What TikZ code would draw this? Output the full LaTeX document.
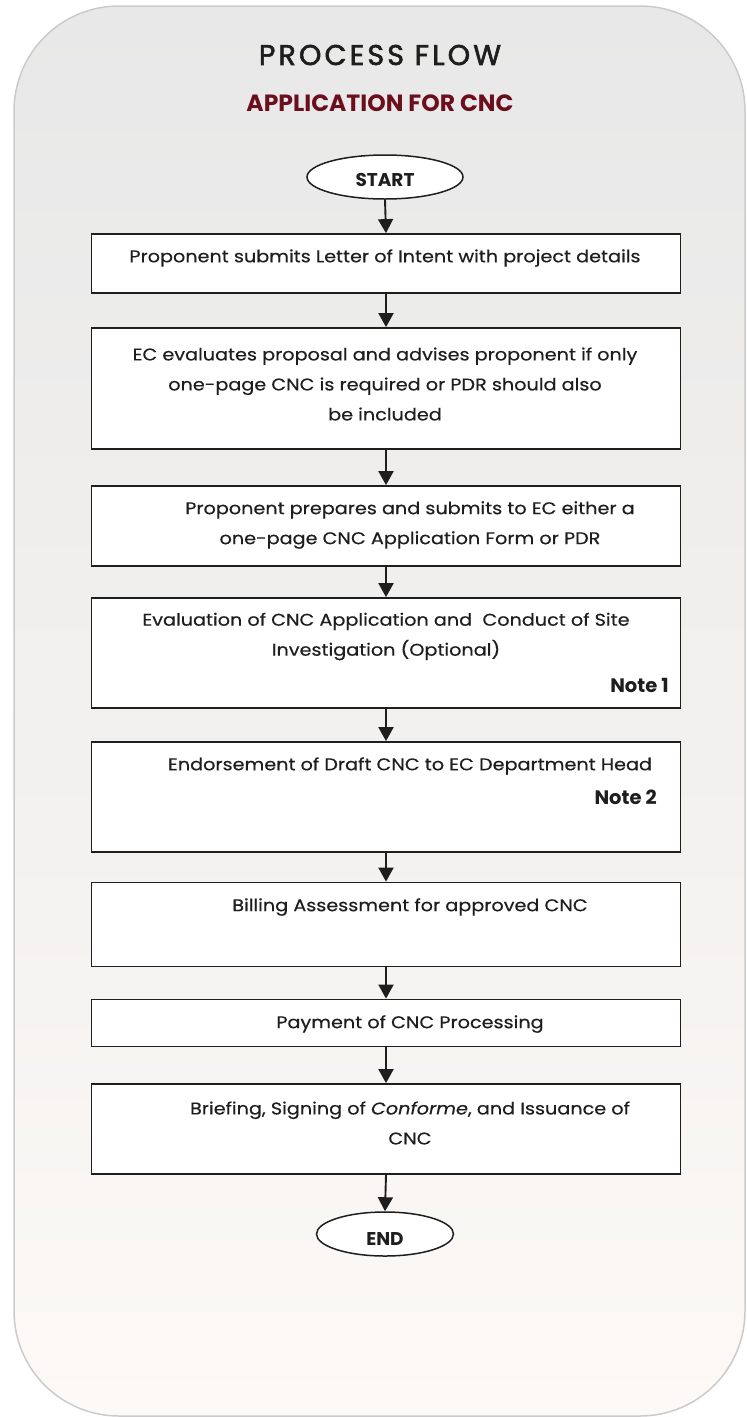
\documentclass[tikz,border=0pt]{standalone}
\usepackage{fontspec}
\setmainfont[FakeStretch=1.13, FakeBold=0.4]{Poppins}
\newfontfamily\titlefont[LetterSpace=11, FakeBold=2]{Poppins}
\newfontfamily\headfont{Poppins}
\newfontfamily\notefont{Poppins}
\usetikzlibrary{arrows.meta,shapes.geometric}
\definecolor{panelline}{HTML}{CBCBCB}
\definecolor{paneltop}{HTML}{E8E8E8}
\definecolor{panelbottom}{HTML}{FCF9F6}
\definecolor{subtitle}{HTML}{6B0F1E}
\definecolor{ink}{HTML}{1E1E1E}
\tikzset{
  stepbox/.style={draw=ink, line width=1.8pt, fill=white, minimum width=589pt, inner sep=0pt},
  terminal/.style={ellipse, draw=ink, line width=1.5pt, fill=white, inner sep=0pt},
  termtext/.style={font=\notefont\bfseries\fontsize{18.5}{18.5}\selectfont, text=ink, inner sep=0pt},
  steptext/.style={font=\fontsize{17}{30}\selectfont, text=ink, align=center, inner sep=0pt},
  notetext/.style={font=\notefont\bfseries\fontsize{19.5}{19.5}\selectfont, text=ink, inner sep=0pt, anchor=east},
  flow/.style={draw=ink, line width=1.9pt, -{Triangle[width=15pt,length=14pt]}},
}
\begin{document}
\begin{tikzpicture}[x=1pt,y=-1pt]
\useasboundingbox (0,0) rectangle (747,1417);
% rounded panel with soft vertical gradient
\shade[top color=paneltop, bottom color=panelbottom, rounded corners=105pt] (14,6) rectangle (745,1416);
\draw[panelline, line width=1.5pt, rounded corners=105pt] (14,6) rectangle (745,1416);

% headings
\node[font=\titlefont\fontsize{28.5}{28.5}\selectfont, text=ink] (title) at (380,55) {PROCESS FLOW};
\node[font=\headfont\bfseries\fontsize{23.5}{23.5}\selectfont, text=subtitle] (subtitle) at (380,103) {APPLICATION FOR CNC};

% terminals
\node[terminal, minimum width=156pt, minimum height=44pt] (start) at (385,177) {};
\node[termtext] (starttext) at (385,180) {START};
\node[terminal, minimum width=137pt, minimum height=44pt] (end) at (385,1234) {};
\node[termtext] (endtext) at (385,1239) {END};

% process boxes (empty frames; texts placed inside)
\node[stepbox, minimum height=59pt]  (b1) at (386,263.5) {};
\node[stepbox, minimum height=121pt] (b2) at (386,388.5) {};
\node[stepbox, minimum height=80pt]  (b3) at (386,526) {};
\node[stepbox, minimum height=110pt] (b4) at (386,653) {};
\node[stepbox, minimum height=110pt] (b5) at (386,797) {};
\node[stepbox, minimum height=84pt]  (b6) at (386,924.5) {};
\node[stepbox, minimum height=47pt]  (b7) at (386,1023) {};
\node[stepbox, minimum height=90pt]  (b8) at (386,1129) {};

% box texts
\node[steptext] (t1) at (385,258) {Proponent submits Letter of Intent with project details};
\node[steptext] (t2) at (385,384) {EC evaluates proposal and advises proponent if only\\one-page CNC is required or PDR should also\\be included};
\node[steptext] (t3) at (410,525) {Proponent prepares and submits to EC either a\\one-page CNC Application Form or PDR};
\node[steptext] (t4) at (386,636.5) {Evaluation of CNC Application and \ Conduct of Site\\Investigation (Optional)};
\node[notetext] (n1) at (669,685) {Note 1};
\node[steptext] (t5) at (410,766) {Endorsement of Draft CNC to EC Department Head};
\node[notetext] (n2) at (657,797) {Note 2};
\node[steptext] (t6) at (410,907) {Billing Assessment for approved CNC};
\node[steptext] (t7) at (410,1024) {Payment of CNC Processing};
\node[steptext] (t8) at (410,1123) {Briefing, Signing of \textit{Conforme}, and Issuance of\\CNC};

% connectors
\draw[flow] (start.south) -- (b1.north);
\draw[flow] (b1.south) -- (b2.north);
\draw[flow] (b2.south) -- (b3.north);
\draw[flow] (b3.south) -- (b4.north);
\draw[flow] (b4.south) -- (b5.north);
\draw[flow] (b5.south) -- (b6.north);
\draw[flow] (b6.south) -- (b7.north);
\draw[flow] (b7.south) -- (b8.north);
\draw[flow] (b8.south) -- (end.north);
\end{tikzpicture}
\end{document}
